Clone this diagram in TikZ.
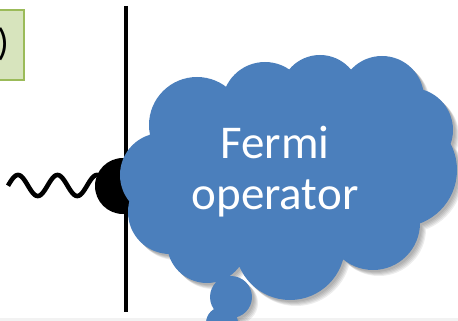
\documentclass[tikz,border=0pt]{standalone}
\usepackage{fontspec}
\setmainfont{Carlito}
\definecolor{cloudblue}{HTML}{4B7FBC}
\definecolor{boxfill}{HTML}{D7E4BD}
\definecolor{boxline}{HTML}{9BBB59}
\newcommand\mycloudshape{%
  (197,125) circle[radius=48pt] (265,105) circle[radius=43pt]
  (320,95) circle[radius=40pt] (382,98) circle[radius=42pt]
  (411,130) circle[radius=42pt] (400,170) circle[radius=57pt]
  (373,223) circle[radius=47pt] (290,245) circle[radius=55pt]
  (207,243) circle[radius=40pt] (170,212) circle[radius=42pt]
  (162,175) circle[radius=42pt]
  (290,175) ellipse[x radius=120pt, y radius=85pt]
  (231,297) circle[radius=21pt] (222,323) circle[radius=16pt]}
\tikzset{
  wire/.style={line width=4.6pt, draw=black},
  labeltext/.style={text=white, font=\fontsize{47}{52}\selectfont, anchor=base, inner sep=0pt},
}
\begin{document}
\begin{tikzpicture}[x=1pt, y=-1pt]
\useasboundingbox (0,0) rectangle (458,321);
% bottom strip
\fill[gray!10] (0,318) rectangle (458,321);
% green box
\filldraw[fill=boxfill, draw=boxline, line width=2.5pt] (-10,10) rectangle (24,80);
\node[anchor=east, inner sep=0pt, font=\fontsize{38}{40}\selectfont] (paren) at (9,44) {)};
% vertical line
\coordinate (vtop) at (126,6);
\coordinate (vbot) at (126,312);
\draw[line width=3.2pt] (vtop) -- (vbot);
% blob
\node[circle, fill=black, minimum size=56pt, inner sep=0pt] (blob) at (123,186) {};
% wave
\draw[wire, line join=round] plot[domain=8:99, samples=120, smooth] (\x, {185.5-10.5*cos(9.1139*(\x-18))});
% shadow
\foreach \s in {2,3,4,5,6} {
  \fill[black, opacity=0.07, shift={(\s pt,-\s pt)}] \mycloudshape;
}
% cloud
\fill[cloudblue] \mycloudshape;
% text
\node[labeltext] (fermi) at (275,158) {Fermi};
\node[labeltext] (oper) at (275,209) {operator};
\end{tikzpicture}
\end{document}
